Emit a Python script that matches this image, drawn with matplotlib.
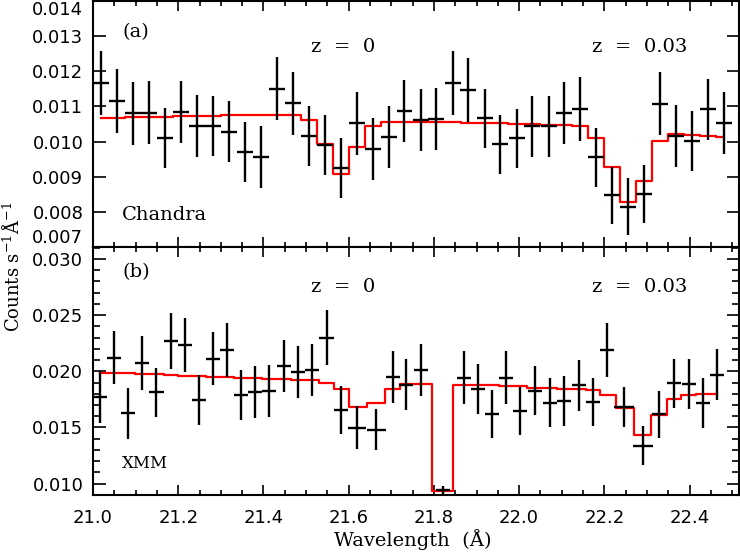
import matplotlib
matplotlib.use("Agg")
import matplotlib.pyplot as plt
from matplotlib.ticker import FixedLocator, MultipleLocator, FormatStrFormatter

plt.rcParams["mathtext.fontset"] = "dejavuserif"

# ------------------------------------------------------------------ #
#   Data
# ------------------------------------------------------------------ #
# (a) Chandra
chandra_wave = [
    21.019, 21.056, 21.094, 21.131, 21.169, 21.206, 21.244, 21.281, 21.319, 21.356,
    21.394, 21.431, 21.469, 21.506, 21.544, 21.581, 21.619, 21.656, 21.694, 21.731,
    21.769, 21.806, 21.844, 21.881, 21.919, 21.956, 21.994, 22.031, 22.069, 22.106,
    22.144, 22.181, 22.219, 22.256, 22.294, 22.331, 22.369, 22.406, 22.444, 22.481,
]
chandra_flux = [
    0.01166, 0.01116, 0.01080, 0.01082, 0.01011, 0.01084, 0.01045, 0.01045, 0.01028, 0.00971,
    0.00955, 0.01151, 0.01109, 0.01016, 0.00991, 0.00924, 0.01052, 0.00979, 0.01013, 0.01088,
    0.01062, 0.01065, 0.01167, 0.01147, 0.01066, 0.00993, 0.01010, 0.01043, 0.01043, 0.01081,
    0.01093, 0.00956, 0.00847, 0.00815, 0.00851, 0.01108, 0.01017, 0.01002, 0.01092, 0.01054,
]
chandra_err = [
    0.00091, 0.00091, 0.00089, 0.00090, 0.00085, 0.00089, 0.00088, 0.00086, 0.00087, 0.00085,
    0.00088, 0.00089, 0.00090, 0.00086, 0.00085, 0.00085, 0.00090, 0.00088, 0.00087, 0.00088,
    0.00089, 0.00088, 0.00091, 0.00091, 0.00085, 0.00084, 0.00084, 0.00087, 0.00088, 0.00088,
    0.00090, 0.00084, 0.00082, 0.00080, 0.00082, 0.00089, 0.00088, 0.00086, 0.00087, 0.00088,
]
chandra_model = [
    0.01068, 0.01068, 0.01069, 0.01070, 0.01071, 0.01072, 0.01073, 0.01074, 0.01075, 0.01076,
    0.01077, 0.01077, 0.01077, 0.01060, 0.00993, 0.00908, 0.00984, 0.01045, 0.01057, 0.01057,
    0.01056, 0.01056, 0.01055, 0.01054, 0.01053, 0.01052, 0.01051, 0.01049, 0.01048, 0.01046,
    0.01043, 0.01011, 0.00929, 0.00827, 0.00888, 0.01002, 0.01022, 0.01020, 0.01016, 0.01013,
]
chandra_halfbin = 0.01875

# (b) XMM
xmm_wave = [
    21.016, 21.050, 21.083, 21.116, 21.149, 21.183, 21.215, 21.249, 21.282, 21.315,
    21.347, 21.381, 21.414, 21.448, 21.481, 21.514, 21.548, 21.581, 21.620, 21.665,
    21.704, 21.735, 21.770, 21.821, 21.870, 21.904, 21.937, 21.970, 22.001, 22.038,
    22.072, 22.105, 22.140, 22.173, 22.207, 22.246, 22.291, 22.329, 22.363, 22.398,
    22.431, 22.465,
]
xmm_flux = [
    0.01770, 0.02122, 0.01625, 0.02071, 0.01812, 0.02268, 0.02236, 0.01745, 0.02112, 0.02188,
    0.01789, 0.01817, 0.01821, 0.02048, 0.01993, 0.02008, 0.02298, 0.01656, 0.01497, 0.01482,
    0.01951, 0.01881, 0.02012, 0.00940, 0.01945, 0.01844, 0.01621, 0.01944, 0.01647, 0.01829,
    0.01722, 0.01738, 0.01877, 0.01725, 0.02187, 0.01682, 0.01338, 0.01616, 0.01892, 0.01887,
    0.01718, 0.01970,
]
xmm_err = [
    0.00231, 0.00235, 0.00226, 0.00241, 0.00219, 0.00247, 0.00241, 0.00226, 0.00237, 0.00238,
    0.00226, 0.00234, 0.00231, 0.00235, 0.00231, 0.00231, 0.00244, 0.00216, 0.00190, 0.00182,
    0.00234, 0.00229, 0.00235, 0.00040, 0.00234, 0.00225, 0.00216, 0.00235, 0.00213, 0.00216,
    0.00219, 0.00223, 0.00228, 0.00216, 0.00240, 0.00179, 0.00171, 0.00211, 0.00219, 0.00223,
    0.00223, 0.00229,
]
xmm_halfbin = [
    0.0165, 0.0165, 0.0165, 0.0165, 0.0165, 0.0165, 0.0165, 0.0165, 0.0165, 0.0165,
    0.0165, 0.0165, 0.0165, 0.0165, 0.0165, 0.0165, 0.0165, 0.0165, 0.0215, 0.0227,
    0.0165, 0.0165, 0.0165, 0.0165, 0.0165, 0.0165, 0.0165, 0.0165, 0.0165, 0.0165,
    0.0165, 0.0165, 0.0165, 0.0165, 0.0165, 0.0235, 0.0227, 0.0165, 0.0165, 0.0165,
    0.0165, 0.0165,
]
xmm_model = [
    0.01988, 0.01985, 0.01982, 0.01978, 0.01972, 0.01967, 0.01960, 0.01955, 0.01952, 0.01948,
    0.01944, 0.01940, 0.01936, 0.01932, 0.01927, 0.01920, 0.01896, 0.01843, 0.01679, 0.01718,
    0.01843, 0.01887, 0.01887, 0.00938, 0.01881, 0.01878, 0.01874, 0.01869, 0.01866, 0.01852,
    0.01852, 0.01843, 0.01843, 0.01830, 0.01792, 0.01673, 0.01432, 0.01613, 0.01756, 0.01792,
    0.01801, 0.01801,
]

chandra_yticks = [0.007, 0.008, 0.009, 0.010, 0.011, 0.012, 0.013, 0.014]
xmm_yticks = [0.010, 0.015, 0.020, 0.025, 0.030]
wave_ticks = [21.0, 21.2, 21.4, 21.6, 21.8, 22.0, 22.2, 22.4]

# ------------------------------------------------------------------ #
#   Layout
# ------------------------------------------------------------------ #
W, H = 740, 552
fig = plt.figure(figsize=(W / 100, H / 100), dpi=100)
ax1 = fig.add_axes([93 / W, 1 - 247 / H, 646 / W, 246 / H])
ax2 = fig.add_axes([93 / W, 1 - 495 / H, 646 / W, 248 / H])

TEXT_FONT = "DejaVu Serif"


def style_axes(ax):
    for sp in ax.spines.values():
        sp.set_linewidth(1.5)
    ax.tick_params(which="both", direction="in", top=True, right=True, width=1.2)
    ax.tick_params(axis="x", which="major", length=7, pad=10, labelsize=13)
    ax.tick_params(axis="x", which="minor", length=3.8)
    ax.tick_params(axis="y", which="major", length=9, pad=7, labelsize=13)
    ax.tick_params(axis="y", which="minor", length=5)
    ax.xaxis.set_major_locator(FixedLocator(wave_ticks))
    ax.xaxis.set_minor_locator(MultipleLocator(0.05))
    ax.xaxis.set_major_formatter(FormatStrFormatter("%.1f"))
    ax.yaxis.set_major_formatter(FormatStrFormatter("%.3f"))
    ax.set_xlim(21.0, 22.516)


# --- (a) Chandra ---
style_axes(ax1)
ax1.plot(chandra_wave, chandra_model, drawstyle="steps-mid", color="red", lw=1.6, zorder=2)
ax1.errorbar(chandra_wave, chandra_flux, xerr=chandra_halfbin, yerr=chandra_err,
             fmt="none", ecolor="black", elinewidth=1.7, capsize=0, zorder=3)
ax1.set_ylim(0.007, 0.014)
ax1.yaxis.set_major_locator(FixedLocator(chandra_yticks))
ax1.tick_params(axis="x", labelbottom=False)
ylabels = ax1.get_yticklabels()
ylabels[0].set_verticalalignment("bottom")
ylabels[-1].set_verticalalignment("top")

ax1.text(0.045, 0.874, "(a)", transform=ax1.transAxes, family=TEXT_FONT,
         fontsize=14, ha="left", va="center")
ax1.text(0.387, 0.813, "z  =  0", transform=ax1.transAxes, family=TEXT_FONT,
         fontsize=14, ha="center", va="center")
ax1.text(0.847, 0.813, "z  =  0.03", transform=ax1.transAxes, family=TEXT_FONT,
         fontsize=14, ha="center", va="center")
ax1.text(0.045, 0.130, "Chandra", transform=ax1.transAxes, family=TEXT_FONT,
         fontsize=14, ha="left", va="center")

# --- (b) XMM ---
style_axes(ax2)
ax2.plot(xmm_wave, xmm_model, drawstyle="steps-mid", color="red", lw=1.6, zorder=2)
ax2.errorbar(xmm_wave, xmm_flux, xerr=xmm_halfbin, yerr=xmm_err,
             fmt="none", ecolor="black", elinewidth=1.7, capsize=0, zorder=3)
ax2.set_ylim(0.00899, 0.03107)
ax2.yaxis.set_major_locator(FixedLocator(xmm_yticks))
ax2.yaxis.set_minor_locator(MultipleLocator(0.001))

ax2.text(0.045, 0.899, "(b)", transform=ax2.transAxes, family=TEXT_FONT,
         fontsize=14, ha="left", va="center")
ax2.text(0.387, 0.839, "z  =  0", transform=ax2.transAxes, family=TEXT_FONT,
         fontsize=14, ha="center", va="center")
ax2.text(0.847, 0.839, "z  =  0.03", transform=ax2.transAxes, family=TEXT_FONT,
         fontsize=14, ha="center", va="center")
ax2.text(0.045, 0.129, "XMM", transform=ax2.transAxes, family=TEXT_FONT,
         fontsize=12, ha="left", va="center")

# --- shared axis titles ---
fig.text(413 / W, 1 - 540 / H, "Wavelength  (Å)", family=TEXT_FONT,
         fontsize=14, ha="center", va="center")
fig.text(13 / W, 1 - 267 / H, r"Counts s$^{-1}$Å$^{-1}$", family=TEXT_FONT,
         fontsize=13, rotation=90, ha="center", va="center")

fig.savefig("out.png", dpi=100)
